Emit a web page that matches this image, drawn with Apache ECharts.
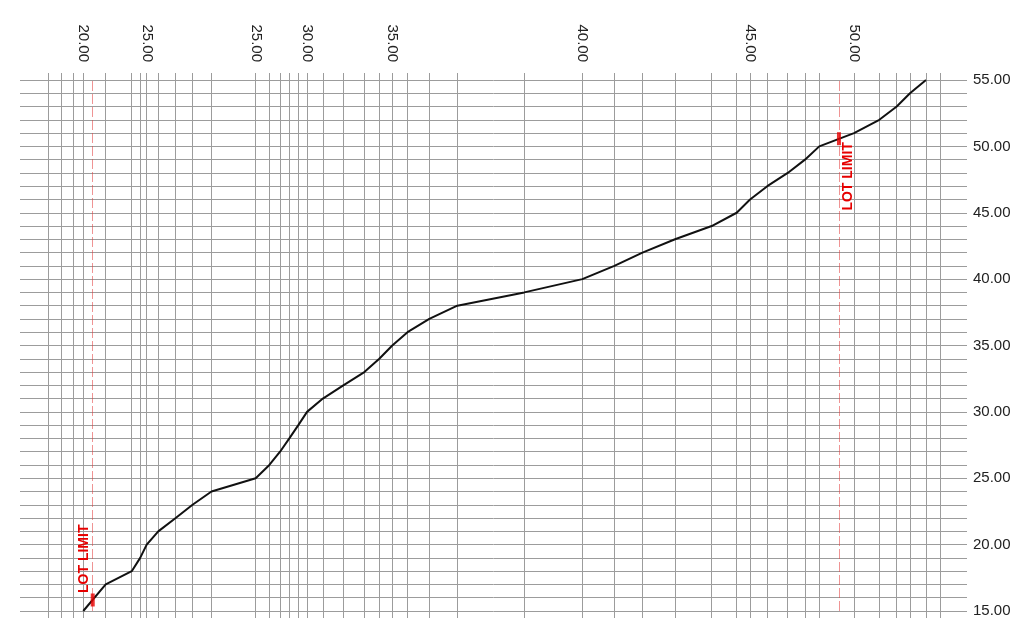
<!DOCTYPE html>
<html>
<head>
<meta charset="utf-8">
<script src="https://cdn.jsdelivr.net/npm/echarts@6/dist/echarts.min.js"></script>
<style>
html,body{margin:0;padding:0;background:#fff;}
#chart{width:1024px;height:638px;}
</style>
</head>
<body>
<div id="chart"></div>
<script>
// Data (x in plot-position units 0..100, y in value units)
const pointX = [6.68, 9.05, 11.80, 12.69, 13.38, 14.60, 16.44, 18.22, 20.22, 24.89, 26.33, 27.46, 28.44, 29.39, 30.31, 31.98, 34.14, 36.36, 37.94, 39.31, 40.92, 43.22, 46.18, 53.25, 59.38, 62.76, 65.73, 69.17, 73.04, 75.68, 77.09, 78.91, 81.07, 82.89, 84.40, 88.07, 90.74, 92.58, 93.98, 95.67];
const pointY = [15, 17, 18, 19, 20, 21, 22, 23, 24, 25, 26, 27, 28, 29, 30, 31, 32, 33, 34, 35, 36, 37, 38, 39, 40, 41, 42, 43, 44, 45, 46, 47, 48, 49, 50, 51, 52, 53, 54, 55];
const extraGridX = [2.96, 4.33, 5.60, 97.22];
const lotLimitX = [7.68, 86.48];
const lotLimitY = [15.83, 50.58];
const topTickX = [6.68, 13.38, 24.89, 30.31, 39.31, 59.38, 77.09, 88.07];
const topTickLabels = ["20.00", "25.00", "25.00", "30.00", "35.00", "40.00", "45.00", "50.00"];
const yTickValues = [15, 20, 25, 30, 35, 40, 45, 50, 55];
const yMin = 15, yMax = 55;

const chart = echarts.init(document.getElementById('chart'), null, {renderer: 'canvas'});

const GRID_COLOR = '#9c9c9c';
const vLines = extraGridX.concat(pointX).map(v => ({xAxis: v}));
const hLines = [];
for (let v = yMin; v <= yMax; v++) hLines.push({yAxis: v});
const limitLines = lotLimitX.map(x => [{coord: [x, yMin]}, {coord: [x, yMax]}]);

const option = {
  animation: false,
  backgroundColor: '#fff',
  grid: {left: 20, right: 57, top: 73, bottom: 20, containLabel: false, outerBoundsMode: 'none'},
  xAxis: {
    type: 'value', position: 'top', min: 0, max: 100,
    axisLine: {show: false}, axisTick: {show: false}, splitLine: {show: false},
    axisLabel: {
      customValues: topTickX, rotate: 90, margin: 11,
      fontFamily: 'Liberation Sans, Arial, sans-serif', fontSize: 15, color: '#222',
      formatter: function (v) {
        let best = 0;
        for (let i = 1; i < topTickX.length; i++) if (Math.abs(topTickX[i] - v) < Math.abs(topTickX[best] - v)) best = i;
        return topTickLabels[best];
      }
    }
  },
  yAxis: {
    type: 'value', position: 'right', min: yMin - 7 / 13.275, max: yMax + 7 / 13.275,
    axisLine: {show: false}, axisTick: {show: false}, splitLine: {show: false},
    axisLabel: {
      customValues: yTickValues, margin: 6,
      fontFamily: 'Liberation Sans, Arial, sans-serif', fontSize: 15, color: '#222',
      formatter: v => v.toFixed(2)
    }
  },
  series: [
    {
      type: 'line', silent: true, symbol: 'none', data: [], z: 1,
      markLine: {
        silent: true, symbol: 'none', animation: false,
        label: {show: false},
        lineStyle: {color: GRID_COLOR, width: 1, type: 'solid'},
        data: vLines.concat(hLines)
      }
    },
    {
      type: 'line', silent: true, symbol: 'none', data: [], z: 2,
      markLine: {
        silent: true, symbol: 'none', animation: false,
        label: {show: false},
        lineStyle: {color: 'rgba(225,60,60,0.55)', width: 1, type: [10, 3]},
        data: limitLines
      }
    },
    {
      type: 'line', symbol: 'none', z: 5,
      lineStyle: {color: '#111', width: 2},
      data: pointX.map((x, i) => [x, pointY[i]])
    },
    {
      type: 'scatter', z: 6, symbol: 'rect', symbolSize: [4, 13],
      itemStyle: {color: '#e60000'},
      data: lotLimitX.map((x, i) => [x, lotLimitY[i]])
    }
  ]
};
chart.setOption(option);

// "LOT LIMIT" labels placed relative to the limit marks
const p0 = chart.convertToPixel({gridIndex: 0}, [lotLimitX[0], lotLimitY[0]]);
const p1 = chart.convertToPixel({gridIndex: 0}, [lotLimitX[1], lotLimitY[1]]);
const lotFont = 'bold 14px "Liberation Sans", Arial, sans-serif';
chart.setOption({
  graphic: [
    {type: 'text', x: p0[0] - 8.5, y: p0[1] - 7, rotation: Math.PI / 2, z: 10,
     style: {text: 'LOT LIMIT', font: lotFont, fill: '#e60000', align: 'left', verticalAlign: 'middle'}},
    {type: 'text', x: p1[0] + 9, y: p1[1] + 3.5, rotation: Math.PI / 2, z: 10,
     style: {text: 'LOT LIMIT', font: lotFont, fill: '#e60000', align: 'right', verticalAlign: 'middle'}}
  ]
});
</script>
</body>
</html>
